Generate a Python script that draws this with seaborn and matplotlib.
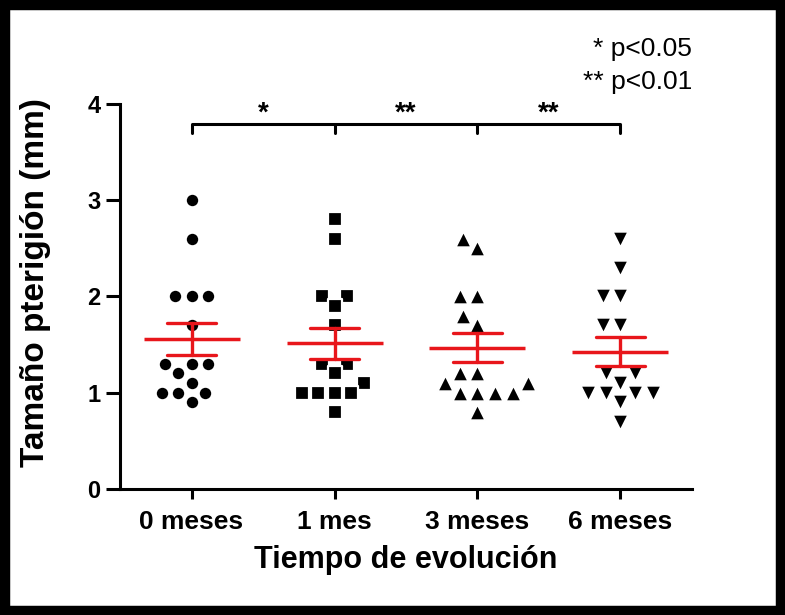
import matplotlib
matplotlib.use("Agg")
import matplotlib.pyplot as plt
from matplotlib.patches import Rectangle
import numpy as np
import pandas as pd
import seaborn as sns

# datos (mm)
categorias = ["0 meses", "1 mes", "3 meses", "6 meses"]
meses_0 = [3.0, 2.6, 2.0, 2.0, 2.0, 1.7, 1.3, 1.3, 1.3, 1.2, 1.1, 1.0, 1.0, 1.0, 0.9]
mes_1 = [2.8, 2.6, 2.0, 2.0, 1.9, 1.7, 1.3, 1.3, 1.2, 1.1, 1.0, 1.0, 1.0, 1.0, 0.8]
meses_3 = [2.6, 2.5, 2.0, 2.0, 1.8, 1.7, 1.2, 1.2, 1.1, 1.1, 1.0, 1.0, 1.0, 1.0, 0.8]
meses_6 = [2.6, 2.3, 2.0, 2.0, 1.7, 1.7, 1.2, 1.2, 1.1, 1.0, 1.0, 1.0, 1.0, 0.9, 0.7]
marcadores = ["o", "s", "^", "v"]
# (tamano, borde) de cada marcador
tamanos = [(9.8, 1.6), (9.6, 1.6), (11.0, 1.2), (11.0, 1.2)]

# comparaciones entre grupos consecutivos
comparaciones = [(0, 1, "*"), (1, 2, "**"), (2, 3, "**")]
leyenda_p = ["* p<0.05", "** p<0.01"]

rojo = "#e8161b"

df = pd.DataFrame({
    "tiempo": np.repeat(categorias, 15),
    "tamano": meses_0 + mes_1 + meses_3 + meses_6,
})

sns.set_style("ticks")
plt.rcParams["font.family"] = ["Liberation Sans", "DejaVu Sans"]
plt.rcParams["font.weight"] = "bold"
for k in ["text.color", "axes.labelcolor", "xtick.color", "ytick.color"]:
    plt.rcParams[k] = "black"

fig = plt.figure(figsize=(7.85, 6.15), dpi=100)
fig.patch.set_facecolor("white")
ax = fig.add_axes([0.1529, 0.2049, 0.7286, 0.626])

# borde blanco invisible para separar un poco mas los puntos
for cat, m, (sz, lw) in zip(categorias, marcadores, tamanos):
    sns.swarmplot(data=df[df.tiempo == cat], x="tiempo", y="tamano", order=categorias,
                  marker=m, color="black", size=sz, linewidth=lw, edgecolor="white",
                  ax=ax, zorder=3)

sns.pointplot(data=df, x="tiempo", y="tamano", order=categorias, errorbar="se",
              color=rojo, marker="_", linestyle="none", markersize=69,
              markeredgewidth=2.5, capsize=0.34, err_kws={"linewidth": 2.4},
              ax=ax)
for ln in ax.lines:
    ln.set_zorder(5)

ax.set_xlim(-0.5, 3.5)
ax.set_ylim(0, 4)
ax.set_yticks([0, 1, 2, 3, 4])
sns.despine(ax=ax)
for s in ["left", "bottom"]:
    ax.spines[s].set_linewidth(2.2)
    ax.spines[s].set_color("black")
ax.tick_params(axis="y", length=10, width=2.2, pad=4, labelsize=17, colors="black")
ax.tick_params(axis="x", length=7, width=2.2, pad=8, labelsize=19, colors="black")
for lab in ax.get_xticklabels() + ax.get_yticklabels():
    lab.set_fontweight("bold")

ax.set_xlabel("Tiempo de evolución", fontsize=22, fontweight="bold", labelpad=8)
ax.set_ylabel("Tamaño pterigión (mm)", fontsize=24, fontweight="bold")
ax.yaxis.set_label_coords(-0.12, 0.535)

# corchete de significancia
y_barra, y_pata = 3.79, 3.70
ax.plot([0, 3], [y_barra, y_barra], color="black", lw=2.2, clip_on=False,
        solid_capstyle="butt")
for xi in range(4):
    ax.plot([xi, xi], [y_pata, y_barra], color="black", lw=2.2, clip_on=False)
for a, b, txt in comparaciones:
    ax.text((a + b) / 2, 3.90, txt, ha="center", va="center", fontsize=20,
            fontweight="bold", clip_on=False)

fig.text(0.8815, 0.921, leyenda_p[0], ha="right", va="center", fontsize=19,
         fontweight="normal")
fig.text(0.8815, 0.866, leyenda_p[1], ha="right", va="center", fontsize=19,
         fontweight="normal")

# marco negro
fig.add_artist(Rectangle((0, 0), 1, 1, transform=fig.transFigure, fill=False,
                         edgecolor="black", linewidth=14))

fig.savefig("out.png", dpi=100)
